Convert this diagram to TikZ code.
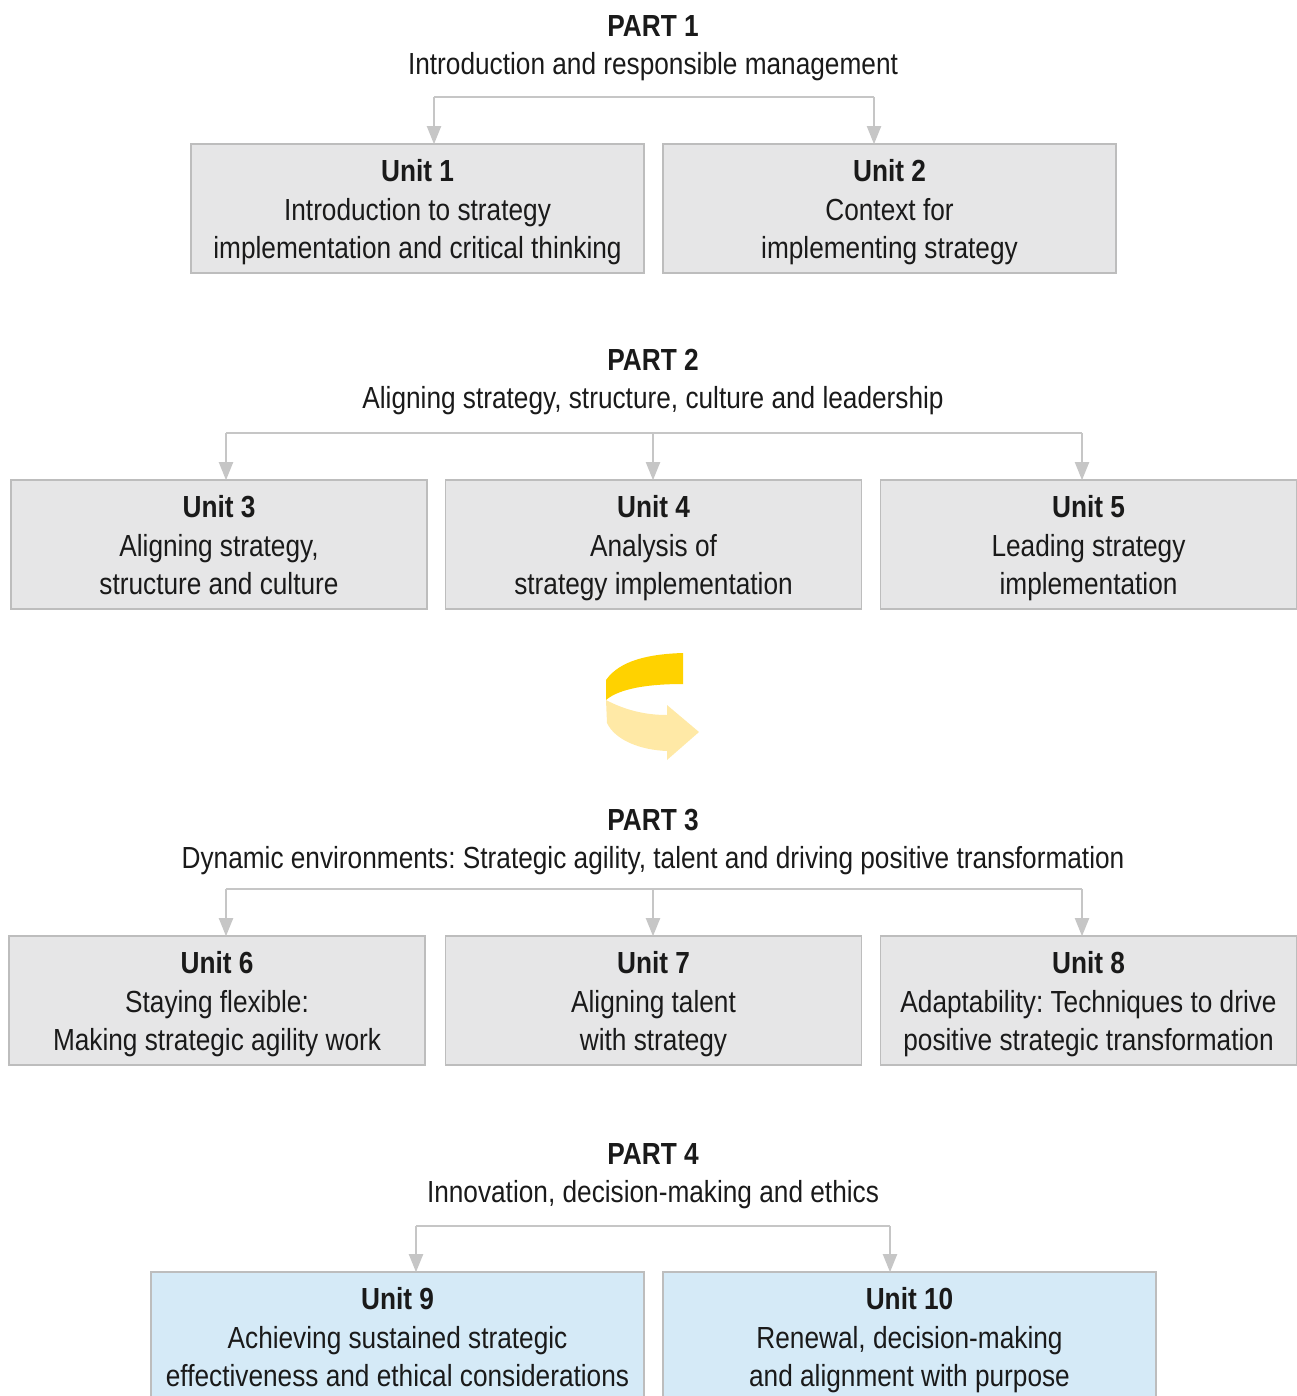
\documentclass[tikz,border=0pt]{standalone}
\usepackage{fontspec}
\setmainfont[FakeStretch=0.86]{Liberation Sans}
\usetikzlibrary{arrows.meta}
\definecolor{boxgray}{HTML}{E6E6E7}
\definecolor{boxblue}{HTML}{D5EAF7}
\definecolor{edgegray}{HTML}{BDBDBD}
\definecolor{linegray}{HTML}{C6C6C6}
\definecolor{inkdark}{HTML}{1A1A1A}
\definecolor{goldband}{HTML}{FFD200}
\definecolor{paleband}{HTML}{FFE9A6}
\tikzset{
  unitbox/.style={draw=edgegray, line width=1.6pt, fill=boxgray, inner sep=0pt,
    align=center, text=inkdark, font=\fontsize{30.5}{38.2}\selectfont\frenchspacing,
    text height=99.6pt, text depth=0pt},
  bluebox/.style={unitbox, fill=boxblue},
  parttitle/.style={align=center, text=inkdark, inner sep=0pt,
    font=\fontsize{30.5}{38}\selectfont\frenchspacing,
    text height=58pt, text depth=0pt},
  conn/.style={draw=linegray, line width=2pt},
  connarrow/.style={conn, -{Triangle[width=14pt,length=18pt]}, shorten >=-1pt}
}
\begin{document}
\begin{tikzpicture}[x=1pt,y=-1pt]
\useasboundingbox (0,0) rectangle (1297,1396);
\clip (0,0) rectangle (1297,1396);

% ---------- Part 1 ----------
\node[parttitle] (p1) at (653,45.5) {\textbf{PART 1}\\Introduction and responsible management};
\node[unitbox, minimum width=453pt, minimum height=129pt] (u1) at (417.5,208.5)
  {\textbf{Unit 1}\\Introduction to strategy\\implementation and critical thinking};
\node[unitbox, minimum width=453pt, minimum height=129pt] (u2) at (889.5,208.5)
  {\textbf{Unit 2}\\Context for\\implementing strategy};
\coordinate (j1a) at (434,97);
\coordinate (j1b) at (874,97);
\draw[conn] (j1a) -- (j1b);
\draw[connarrow] (j1a) -- (j1a |- u1.north);
\draw[connarrow] (j1b) -- (j1b |- u2.north);

% ---------- Part 2 ----------
\node[parttitle] (p2) at (653,379.7) {\textbf{PART 2}\\Aligning strategy, structure, culture and leadership};
\node[unitbox, minimum width=416pt, minimum height=129pt] (u3) at (219,544.5)
  {\textbf{Unit 3}\\Aligning strategy,\\structure and culture};
\node[unitbox, minimum width=416pt, minimum height=129pt] (u4) at (653.5,544.5)
  {\textbf{Unit 4}\\Analysis of\\strategy implementation};
\node[unitbox, minimum width=416pt, minimum height=129pt] (u5) at (1088.5,544.5)
  {\textbf{Unit 5}\\Leading strategy\\implementation};
\coordinate (j2a) at (226,433);
\coordinate (j2b) at (653,433);
\coordinate (j2c) at (1082,433);
\draw[conn] (j2a) -- (j2c);
\draw[connarrow] (j2a) -- (j2a |- u3.north);
\draw[connarrow] (j2b) -- (j2b |- u4.north);
\draw[connarrow] (j2c) -- (j2c |- u5.north);

% ---------- turning arrow ----------
\fill[goldband] (606,680) .. controls (620,660) and (650,654) .. (683,653)
  -- (683,684) .. controls (650,684) and (620,688) .. (606,700) -- cycle;
\fill[paleband] (606,700) .. controls (625,710) and (645,715) .. (667,715)
  -- (667,705) -- (699,732) -- (667,760) -- (667,751)
  .. controls (640,750) and (615,740) .. (607,723) -- cycle;

% ---------- Part 3 ----------
\node[parttitle] (p3) at (653,839.7) {\textbf{PART 3}\\Dynamic environments: Strategic agility, talent and driving positive transformation};
\node[unitbox, minimum width=416pt, minimum height=129pt] (u6) at (217,1000.5)
  {\textbf{Unit 6}\\Staying flexible:\\Making strategic agility work};
\node[unitbox, minimum width=416pt, minimum height=129pt] (u7) at (653.5,1000.5)
  {\textbf{Unit 7}\\Aligning talent\\with strategy};
\node[unitbox, minimum width=416pt, minimum height=129pt] (u8) at (1088.5,1000.5)
  {\textbf{Unit 8}\\Adaptability: Techniques to drive\\positive strategic transformation};
\coordinate (j3a) at (226,889);
\coordinate (j3b) at (653,889);
\coordinate (j3c) at (1082,889);
\draw[conn] (j3a) -- (j3c);
\draw[connarrow] (j3a) -- (j3a |- u6.north);
\draw[connarrow] (j3b) -- (j3b |- u7.north);
\draw[connarrow] (j3c) -- (j3c |- u8.north);

% ---------- Part 4 ----------
\node[parttitle] (p4) at (653,1173.7) {\textbf{PART 4}\\Innovation, decision-making and ethics};
\node[bluebox, minimum width=493pt, minimum height=129pt] (u9) at (397.5,1336.5)
  {\textbf{Unit 9}\\Achieving sustained strategic\\effectiveness and ethical considerations};
\node[bluebox, minimum width=493pt, minimum height=129pt] (u10) at (909.5,1336.5)
  {\textbf{Unit 10}\\Renewal, decision-making\\and alignment with purpose};
\coordinate (j4a) at (416,1226);
\coordinate (j4b) at (890,1226);
\draw[conn] (j4a) -- (j4b);
\draw[connarrow] (j4a) -- (j4a |- u9.north);
\draw[connarrow] (j4b) -- (j4b |- u10.north);
\end{tikzpicture}
\end{document}
